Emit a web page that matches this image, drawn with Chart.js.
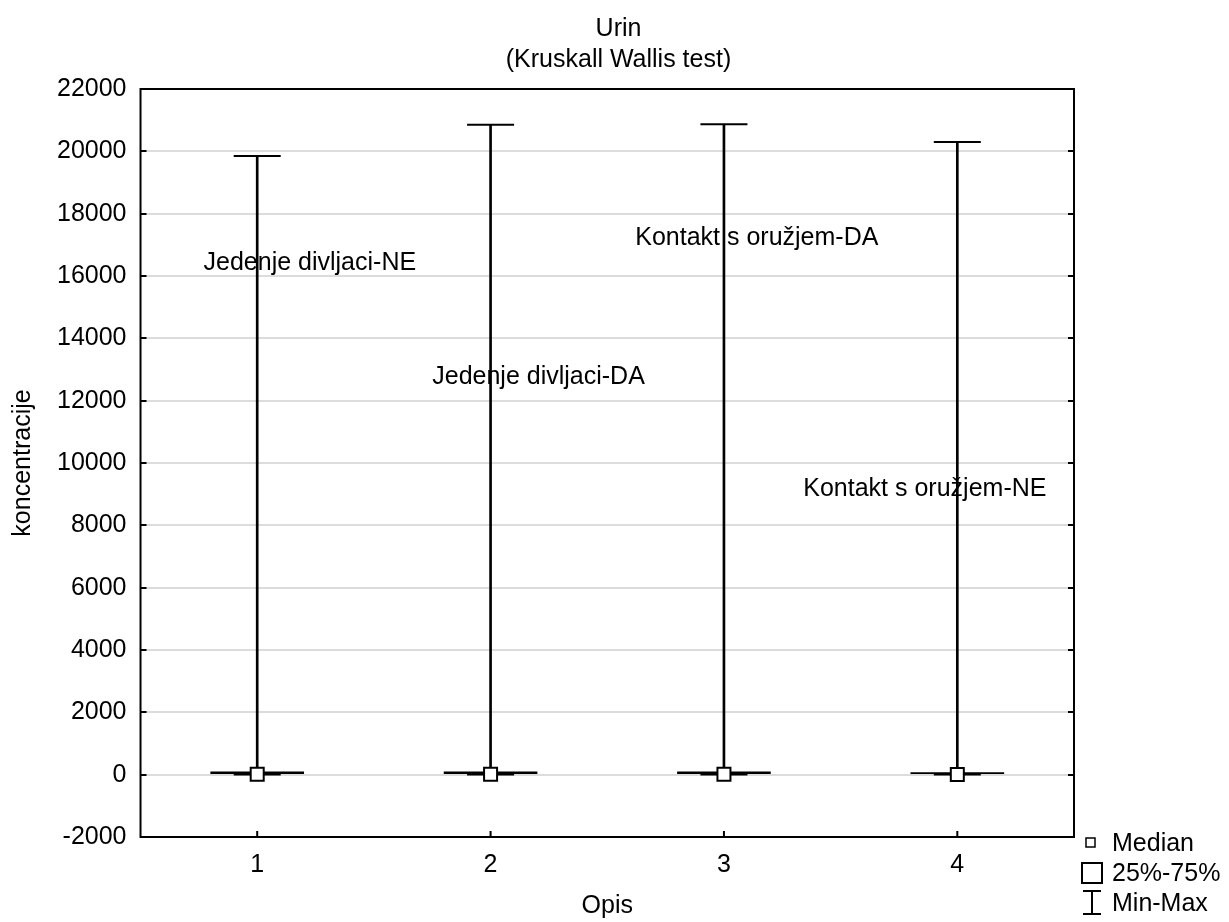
<!DOCTYPE html>
<html>
<head>
<meta charset="utf-8">
<title>Urin</title>
<script src="https://cdn.jsdelivr.net/npm/chart.js@4.4.1/dist/chart.umd.min.js"></script>
<style>
  html, body { margin: 0; padding: 0; background: #fff; }
  #wrap { width: 1229px; height: 922px; }
</style>
</head>
<body>
<div id="wrap"><canvas id="myChart" width="1229" height="922"></canvas></div>
<script>
// groups on the x axis (Opis)
const categories = ['1', '2', '3', '4'];

// box plot values per group
const minVals = [0, 0, 0, 0];
const q1Vals = [0, 0, 0, 0];
const medianVals = [10, 10, 10, 8];
const q3Vals = [90, 90, 90, 70];
const maxVals = [19850, 20850, 20870, 20300];

// y axis range
const yMin = -2000;
const yMax = 22000;
const yStep = 2000;

// text notes inside the plot (x = category index, y = value)
const noteTexts = ['Jedenje divljaci-NE', 'Jedenje divljaci-DA', 'Kontakt s oružjem-DA', 'Kontakt s oružjem-NE'];
const noteX = [-0.23, 0.75, 1.62, 2.34];
const noteY = [16400, 12740, 17230, 9150];

// legend entries
const legendLabels = ['Median', '25%-75%', 'Min-Max'];

const FONT = '"Liberation Sans", Arial, Helvetica, sans-serif';
Chart.defaults.font.family = FONT;
Chart.defaults.font.size = 25;
Chart.defaults.color = '#000';

// frame, inward tick marks, notes and legend
const decorations = {
    id: 'decorations',
    afterDatasetsDraw(chart) {
        const { ctx, chartArea: a, scales } = chart;
        const y = scales.y;
        const x = scales.x;
        ctx.save();
        ctx.font = '25px ' + FONT;
        ctx.fillStyle = '#000';
        ctx.textAlign = 'left';
        ctx.textBaseline = 'middle';
        noteTexts.forEach((t, i) => {
            ctx.fillText(t, x.getPixelForValue(noteX[i]), y.getPixelForValue(noteY[i]));
        });

        ctx.strokeStyle = '#000';
        ctx.lineWidth = 2;
        ctx.strokeRect(a.left, a.top, a.right - a.left, a.bottom - a.top);
        ctx.beginPath();
        y.ticks.forEach((t) => {
            const py = Math.round(y.getPixelForValue(t.value));
            ctx.moveTo(a.left, py); ctx.lineTo(a.left + 6, py);
            ctx.moveTo(a.right, py); ctx.lineTo(a.right - 6, py);
        });
        categories.forEach((c, i) => {
            const px = x.getPixelForValue(i);
            ctx.moveTo(px, a.bottom); ctx.lineTo(px, a.bottom - 6);
        });
        ctx.stroke();

        // legend below right corner of the plot
        const lx = a.right + 8;
        const ly = a.bottom;
        ctx.lineWidth = 1.5;
        ctx.strokeRect(lx + 4, ly + 1, 9, 9);
        ctx.lineWidth = 2;
        ctx.strokeRect(lx, ly + 26, 20, 20);
        ctx.beginPath();
        ctx.moveTo(lx + 1, ly + 54); ctx.lineTo(lx + 19, ly + 54);
        ctx.moveTo(lx + 10, ly + 54); ctx.lineTo(lx + 10, ly + 77);
        ctx.moveTo(lx + 1, ly + 77); ctx.lineTo(lx + 19, ly + 77);
        ctx.stroke();
        legendLabels.forEach((t, i) => {
            ctx.fillText(t, lx + 30, ly + 7 + i * 30);
        });
        ctx.restore();
    }
};

const ctx = document.getElementById('myChart').getContext('2d');
new Chart(ctx, {
    data: {
        labels: categories,
        datasets: [
            {
                type: 'bar',
                label: 'Min-Max',
                data: categories.map((c, i) => [minVals[i], maxVals[i]]),
                backgroundColor: '#000',
                borderWidth: 0,
                barThickness: 2,
                grouped: false,
                order: 4
            },
            {
                // the quartile box is collapsed near zero, so it reads as a solid bar
                type: 'bar',
                label: '25%-75%',
                data: categories.map((c, i) => [q1Vals[i], q3Vals[i]]),
                backgroundColor: '#000',
                borderWidth: 0,
                barThickness: 93,
                grouped: false,
                order: 3
            },
            {
                type: 'line',
                label: 'Max',
                data: maxVals,
                showLine: false,
                pointStyle: 'line',
                pointRadius: 23.5,
                pointBorderWidth: 2,
                borderColor: '#000',
                order: 2
            },
            {
                type: 'line',
                label: 'Min',
                data: minVals,
                showLine: false,
                pointStyle: 'line',
                pointRadius: 23.5,
                pointBorderWidth: 1.5,
                borderColor: '#000',
                order: 2
            },
            {
                type: 'line',
                label: 'Median',
                data: medianVals,
                showLine: false,
                pointStyle: 'rect',
                pointRadius: 9.2,
                pointBorderWidth: 2,
                borderColor: '#000',
                pointBackgroundColor: '#fff',
                order: 1
            }
        ]
    },
    options: {
        responsive: false,
        animation: false,
        devicePixelRatio: 1,
        layout: { padding: { left: 8, right: 0, top: 0, bottom: 3 } },
        plugins: {
            legend: { display: false },
            tooltip: { enabled: false },
            title: {
                display: true,
                text: ['Urin', '(Kruskall Wallis test)'],
                font: { size: 25, weight: 'normal', lineHeight: 1.24 },
                color: '#000',
                padding: { top: 13.5, bottom: 13.5 }
            }
        },
        scales: {
            x: {
                type: 'category',
                offset: true,
                grid: { display: false, drawTicks: false },
                border: { display: false },
                ticks: { padding: 16, font: { size: 25, lineHeight: 1 } },
                title: { display: true, text: 'Opis', font: { size: 25, lineHeight: 1 }, padding: { top: 0, bottom: 0 } }
            },
            y: {
                min: yMin,
                max: yMax,
                grid: { color: '#dcdcdc', lineWidth: 2, drawTicks: false },
                border: { display: false },
                ticks: { stepSize: yStep, padding: 14, font: { size: 25 }, callback: (v) => String(v) },
                title: { display: true, text: 'koncentracije', font: { size: 25, lineHeight: 1.2 }, padding: { top: 0, bottom: 5 } }
            },
            // empty right-hand axis keeps room for the legend
            yRight: {
                position: 'right',
                display: true,
                grid: { display: false },
                border: { display: false },
                ticks: { display: false },
                afterFit: (s) => { s.width = 155; }
            }
        }
    },
    plugins: [decorations]
});
</script>
</body>
</html>
